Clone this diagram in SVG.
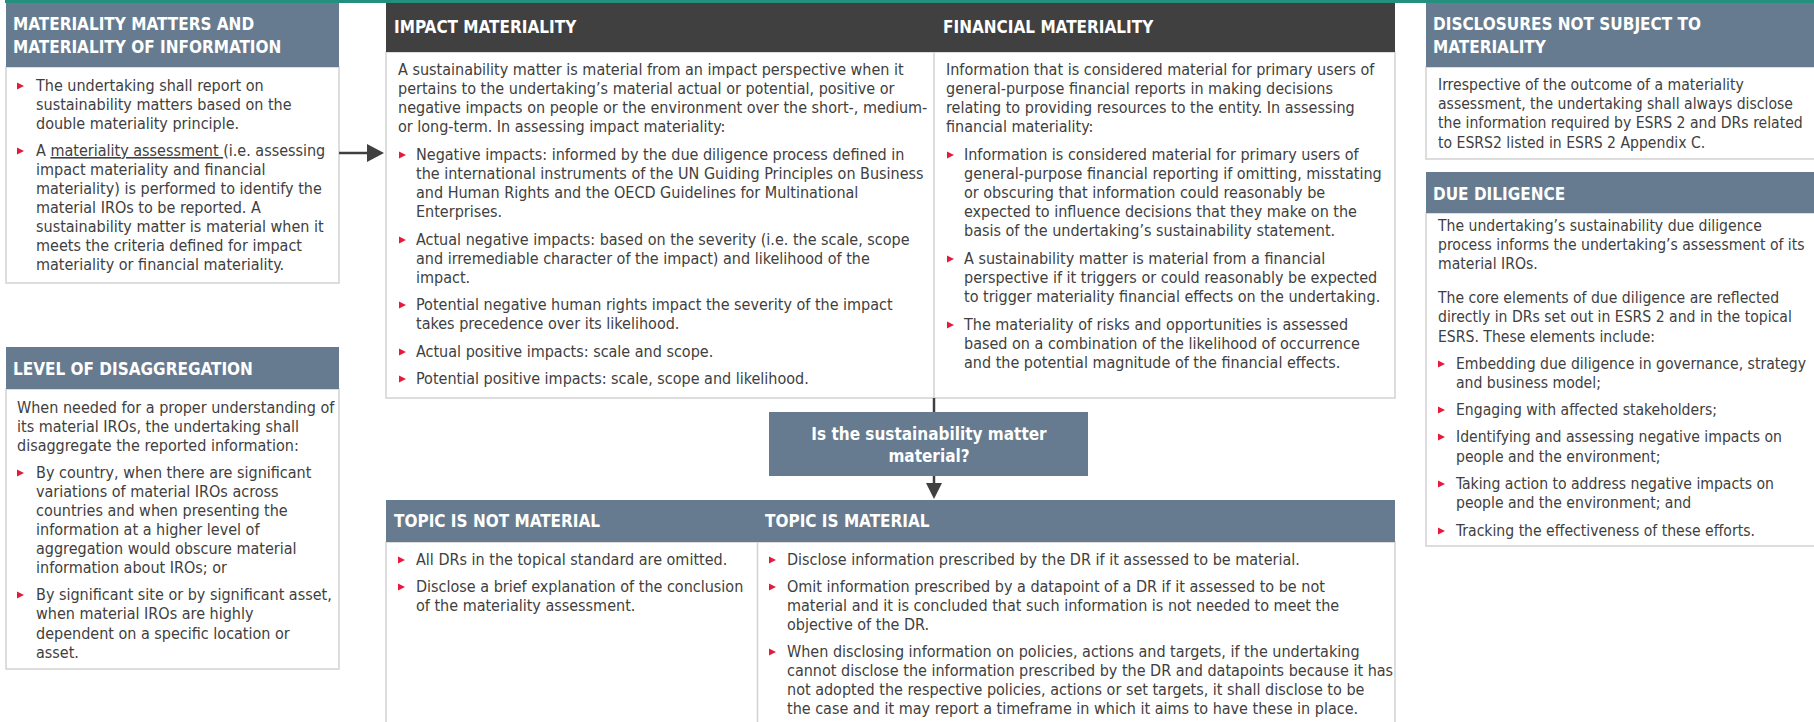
<svg xmlns="http://www.w3.org/2000/svg" xmlns:xlink="http://www.w3.org/1999/xlink" width="1814" height="722" viewBox="0 0 1814 722">
<style>
.hd{fill:#667b8f}
.dk{fill:#404040}
.bd{fill:#ffffff;stroke:#d2d2d2;stroke-width:1.5}
.ht{font-family:"DejaVu Sans Condensed","Liberation Sans",sans-serif;font-weight:bold;font-size:17px;fill:#ffffff}
.t{font-family:"DejaVu Sans Condensed","Liberation Sans",sans-serif;font-size:16px;fill:#404040}
.tr{font-size:15.6px}
.ln{stroke:#d2d2d2;stroke-width:1.5}
.cn{stroke:#404040;stroke-width:2.5;fill:none}
</style>
<defs>
<polygon id="b" points="0,-8.5 7,-5 0,-1.5" fill="#e8193c"/>
</defs>
<rect x="5" y="0" width="1809" height="3" fill="#23907f"/>

<g id="materiality-matters">
<rect class="bd" x="6" y="67" width="333" height="216"/>
<rect class="hd" x="6" y="3" width="333" height="64"/>
<text class="ht" x="13" y="30">MATERIALITY MATTERS AND</text>
<text class="ht" x="13" y="53">MATERIALITY OF INFORMATION</text>
<use xlink:href="#b" x="17" y="91"/>
<text class="t" x="36" y="91">The undertaking shall report on</text>
<text class="t" x="36" y="110">sustainability matters based on the</text>
<text class="t" x="36" y="129">double materiality principle.</text>
<use xlink:href="#b" x="17" y="156"/>
<text class="t" x="36" y="156">A <tspan text-decoration="underline">materiality assessment </tspan>(i.e. assessing</text>
<text class="t" x="36" y="175">impact materiality and financial</text>
<text class="t" x="36" y="194">materiality) is performed to identify the</text>
<text class="t" x="36" y="213">material IROs to be reported. A</text>
<text class="t" x="36" y="232">sustainability matter is material when it</text>
<text class="t" x="36" y="251">meets the criteria defined for impact</text>
<text class="t" x="36" y="270">materiality or financial materiality.</text>
</g>

<g id="level-of-disaggregation">
<rect class="bd" x="6" y="389" width="333" height="280"/>
<rect class="hd" x="6" y="347" width="333" height="42"/>
<text class="ht" x="13" y="375">LEVEL OF DISAGGREGATION</text>
<text class="t" x="17" y="413">When needed for a proper understanding of</text>
<text class="t" x="17" y="432">its material IROs, the undertaking shall</text>
<text class="t" x="17" y="451">disaggregate the reported information:</text>
<use xlink:href="#b" x="17" y="478"/>
<text class="t" x="36" y="478">By country, when there are significant</text>
<text class="t" x="36" y="497">variations of material IROs across</text>
<text class="t" x="36" y="516">countries and when presenting the</text>
<text class="t" x="36" y="535">information at a higher level of</text>
<text class="t" x="36" y="554">aggregation would obscure material</text>
<text class="t" x="36" y="573">information about IROs; or</text>
<use xlink:href="#b" x="17" y="600"/>
<text class="t" x="36" y="600">By significant site or by significant asset,</text>
<text class="t" x="36" y="619">when material IROs are highly</text>
<text class="t" x="36" y="639">dependent on a specific location or</text>
<text class="t" x="36" y="658">asset.</text>
</g>

<g id="impact-financial">
<rect class="bd" x="386" y="52" width="1009" height="346"/>
<line class="ln" x1="934" y1="52" x2="934" y2="398"/>
<rect class="dk" x="386" y="3" width="1009" height="49"/>
</g>

<g id="impact-materiality">
<text class="ht" x="394" y="33">IMPACT MATERIALITY</text>
<text class="t" x="398" y="75">A sustainability matter is material from an impact perspective when it</text>
<text class="t" x="398" y="94">pertains to the undertaking’s material actual or potential, positive or</text>
<text class="t" x="398" y="113">negative impacts on people or the environment over the short-, medium-</text>
<text class="t" x="398" y="132">or long-term. In assessing impact materiality:</text>
<use xlink:href="#b" x="399" y="160"/>
<text class="t" x="416" y="160">Negative impacts: informed by the due diligence process defined in</text>
<text class="t" x="416" y="179">the international instruments of the UN Guiding Principles on Business</text>
<text class="t" x="416" y="198">and Human Rights and the OECD Guidelines for Multinational</text>
<text class="t" x="416" y="217">Enterprises.</text>
<use xlink:href="#b" x="399" y="245"/>
<text class="t" x="416" y="245">Actual negative impacts: based on the severity (i.e. the scale, scope</text>
<text class="t" x="416" y="264">and irremediable character of the impact) and likelihood of the</text>
<text class="t" x="416" y="283">impact.</text>
<use xlink:href="#b" x="399" y="310"/>
<text class="t" x="416" y="310">Potential negative human rights impact the severity of the impact</text>
<text class="t" x="416" y="329">takes precedence over its likelihood.</text>
<use xlink:href="#b" x="399" y="357"/>
<text class="t" x="416" y="357">Actual positive impacts: scale and scope.</text>
<use xlink:href="#b" x="399" y="384"/>
<text class="t" x="416" y="384">Potential positive impacts: scale, scope and likelihood.</text>
</g>

<g id="financial-materiality">
<text class="ht" x="943" y="33">FINANCIAL MATERIALITY</text>
<text class="t" x="946" y="75">Information that is considered material for primary users of</text>
<text class="t" x="946" y="94">general-purpose financial reports in making decisions</text>
<text class="t" x="946" y="113">relating to providing resources to the entity. In assessing</text>
<text class="t" x="946" y="132">financial materiality:</text>
<use xlink:href="#b" x="947" y="160"/>
<text class="t" x="964" y="160">Information is considered material for primary users of</text>
<text class="t" x="964" y="179">general-purpose financial reporting if omitting, misstating</text>
<text class="t" x="964" y="198">or obscuring that information could reasonably be</text>
<text class="t" x="964" y="217">expected to influence decisions that they make on the</text>
<text class="t" x="964" y="236">basis of the undertaking’s sustainability statement.</text>
<use xlink:href="#b" x="947" y="264"/>
<text class="t" x="964" y="264">A sustainability matter is material from a financial</text>
<text class="t" x="964" y="283">perspective if it triggers or could reasonably be expected</text>
<text class="t" x="964" y="302">to trigger materiality financial effects on the undertaking.</text>
<use xlink:href="#b" x="947" y="330"/>
<text class="t" x="964" y="330">The materiality of risks and opportunities is assessed</text>
<text class="t" x="964" y="349">based on a combination of the likelihood of occurrence</text>
<text class="t" x="964" y="368">and the potential magnitude of the financial effects.</text>
</g>

<g id="decision">
<rect class="hd" x="769" y="412" width="319" height="64"/>
<text class="ht" x="929" y="440" text-anchor="middle">Is the sustainability matter</text>
<text class="ht" x="929" y="462" text-anchor="middle">material?</text>
</g>

<g id="topic-outcome">
<rect class="bd" x="386" y="542" width="1009" height="200"/>
<line class="ln" x1="757.5" y1="542" x2="757.5" y2="722"/>
<rect class="hd" x="386" y="500" width="1009" height="42"/>
</g>

<g id="topic-not-material">
<text class="ht" x="394" y="527">TOPIC IS NOT MATERIAL</text>
<use xlink:href="#b" x="398" y="565"/>
<text class="t" x="416" y="565">All DRs in the topical standard are omitted.</text>
<use xlink:href="#b" x="398" y="592"/>
<text class="t" x="416" y="592">Disclose a brief explanation of the conclusion</text>
<text class="t" x="416" y="611">of the materiality assessment.</text>
</g>

<g id="topic-material">
<text class="ht" x="765" y="527">TOPIC IS MATERIAL</text>
<use xlink:href="#b" x="769" y="565"/>
<text class="t" x="787" y="565">Disclose information prescribed by the DR if it assessed to be material.</text>
<use xlink:href="#b" x="769" y="592"/>
<text class="t" x="787" y="592">Omit information prescribed by a datapoint of a DR if it assessed to be not</text>
<text class="t" x="787" y="611">material and it is concluded that such information is not needed to meet the</text>
<text class="t" x="787" y="630">objective of the DR.</text>
<use xlink:href="#b" x="769" y="657"/>
<text class="t" x="787" y="657">When disclosing information on policies, actions and targets, if the undertaking</text>
<text class="t" x="787" y="676">cannot disclose the information prescribed by the DR and datapoints because it has</text>
<text class="t" x="787" y="695">not adopted the respective policies, actions or set targets, it shall disclose to be</text>
<text class="t" x="787" y="714">the case and it may report a timeframe in which it aims to have these in place.</text>
</g>

<g id="disclosures-not-subject">
<rect class="bd" x="1426" y="67" width="400" height="92"/>
<rect class="hd" x="1426" y="3" width="388" height="64"/>
<text class="ht" x="1433" y="30">DISCLOSURES NOT SUBJECT TO</text>
<text class="ht" x="1433" y="53">MATERIALITY</text>
<text class="t tr" x="1438" y="90">Irrespective of the outcome of a materiality</text>
<text class="t tr" x="1438" y="109">assessment, the undertaking shall always disclose</text>
<text class="t tr" x="1438" y="128">the information required by ESRS 2 and DRs related</text>
<text class="t tr" x="1438" y="148">to ESRS2 listed in ESRS 2 Appendix C.</text>
</g>

<g id="due-diligence">
<rect class="bd" x="1426" y="213" width="400" height="333"/>
<rect class="hd" x="1426" y="172" width="388" height="41"/>
<text class="ht" x="1433" y="200">DUE DILIGENCE</text>
<text class="t tr" x="1438" y="231">The undertaking’s sustainability due diligence</text>
<text class="t tr" x="1438" y="250">process informs the undertaking’s assessment of its</text>
<text class="t tr" x="1438" y="269">material IROs.</text>
<text class="t tr" x="1438" y="303">The core elements of due diligence are reflected</text>
<text class="t tr" x="1438" y="322">directly in DRs set out in ESRS 2 and in the topical</text>
<text class="t tr" x="1438" y="342">ESRS. These elements include:</text>
<use xlink:href="#b" x="1438" y="369"/>
<text class="t tr" x="1456" y="369">Embedding due diligence in governance, strategy</text>
<text class="t tr" x="1456" y="388">and business model;</text>
<use xlink:href="#b" x="1438" y="415"/>
<text class="t tr" x="1456" y="415">Engaging with affected stakeholders;</text>
<use xlink:href="#b" x="1438" y="442"/>
<text class="t tr" x="1456" y="442">Identifying and assessing negative impacts on</text>
<text class="t tr" x="1456" y="462">people and the environment;</text>
<use xlink:href="#b" x="1438" y="489"/>
<text class="t tr" x="1456" y="489">Taking action to address negative impacts on</text>
<text class="t tr" x="1456" y="508">people and the environment; and</text>
<use xlink:href="#b" x="1438" y="536"/>
<text class="t tr" x="1456" y="536">Tracking the effectiveness of these efforts.</text>
</g>

<g id="connectors">
<line class="cn" x1="339" y1="153" x2="369" y2="153"/>
<polygon points="367,144 384,153 367,162" fill="#404040"/>
<line class="cn" x1="934" y1="398" x2="934" y2="412"/>
<line class="cn" x1="934" y1="476" x2="934" y2="486"/>
<polygon points="926,483 942,483 934,499" fill="#404040"/>
</g>
</svg>
